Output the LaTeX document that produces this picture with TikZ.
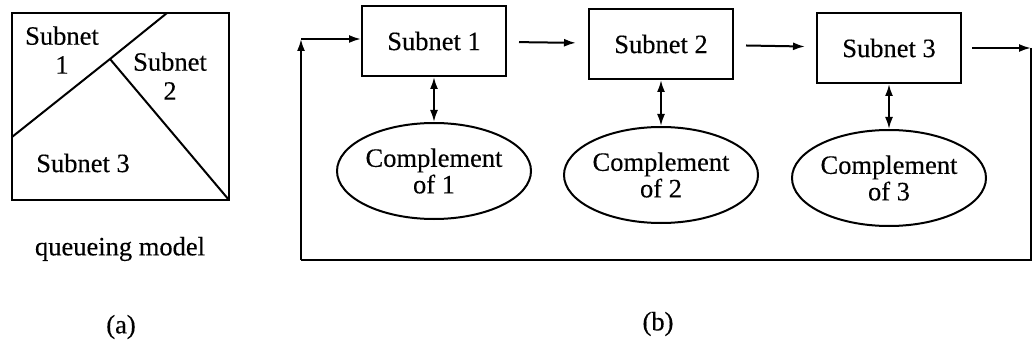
\documentclass[tikz,border=0pt]{standalone}
\usepackage{fontspec}
\setmainfont{Liberation Serif}[FakeBold=0.3]
\usetikzlibrary{shapes.geometric,arrows.meta}
\tikzset{
  txt/.style={font=\fontsize{26.5}{29}\selectfont, inner sep=0pt, align=center},
  sbox/.style={draw, line width=2pt, rectangle, minimum width=144pt, minimum height=70pt, inner sep=0pt, font=\fontsize{26.5}{29}\selectfont},
  comp/.style={draw, line width=2pt, ellipse, minimum width=194pt, minimum height=96pt, inner sep=0pt, align=center, font=\fontsize{26.5}{26.5}\selectfont},
  ln/.style={line width=2pt},
  arr/.style={line width=2pt, -{Latex[length=12pt,width=8pt]}},
  darr/.style={line width=2pt, {Latex[length=12pt,width=8pt]}-{Latex[length=12pt,width=8pt]}},
}
\begin{document}
\begin{tikzpicture}[x=1pt,y=-1pt]
\useasboundingbox (0,0) rectangle (1035,358);
% (a) queueing model
\coordinate (tl) at (12,13);
\coordinate (br) at (229,200);
\coordinate (ptop) at (167,13);
\coordinate (pj) at (110,59);
\coordinate (pl) at (12,137);
\draw[ln] (tl) rectangle (br);
\draw[ln] (ptop) -- (pj) -- (pl);
\draw[ln] (pj) -- (br);
\node[txt] (s1) at (62,50) {Subnet\\1};
\node[txt] (s2) at (170,76) {Subnet\\2};
\node[txt] (s3) at (83,163) {Subnet 3};
\node[txt] (qm) at (120,249) {queueing model};
\node[txt] (la) at (121,327) {(a)};
% (b)
\node[sbox] (b1) at (434,41) {Subnet 1};
\node[sbox] (b2) at (661,44) {Subnet 2};
\node[sbox] (b3) at (889,48) {Subnet 3};
\node[comp] (e1) at (434,171) {Complement\\of 1};
\node[comp] (e2) at (661,175) {Complement\\of 2};
\node[comp] (e3) at (889,178) {Complement\\of 3};
\draw[arr, shorten <=12pt, shorten >=12pt] (b1) -- (b2);
\draw[arr, shorten <=12pt, shorten >=11pt] (b2) -- (b3);
\draw[darr] (b1) -- (e1);
\draw[darr] (b2) -- (e2);
\draw[darr] (b3) -- (e3);
\coordinate (rc) at (1031,48);
\coordinate (rb) at (1031,260);
\coordinate (lb) at (301,260);
\coordinate (lt) at (301,39);
\draw[arr, shorten <=10pt] (b3) -- (rc);
\draw[ln] (rc) -- (rb) -- (lb);
\draw[arr] (lb) -- (lt);
\draw[arr] (lt) -- (b1.west |- lt);
\node[txt] (lbl) at (658,324) {(b)};
\end{tikzpicture}
\end{document}
